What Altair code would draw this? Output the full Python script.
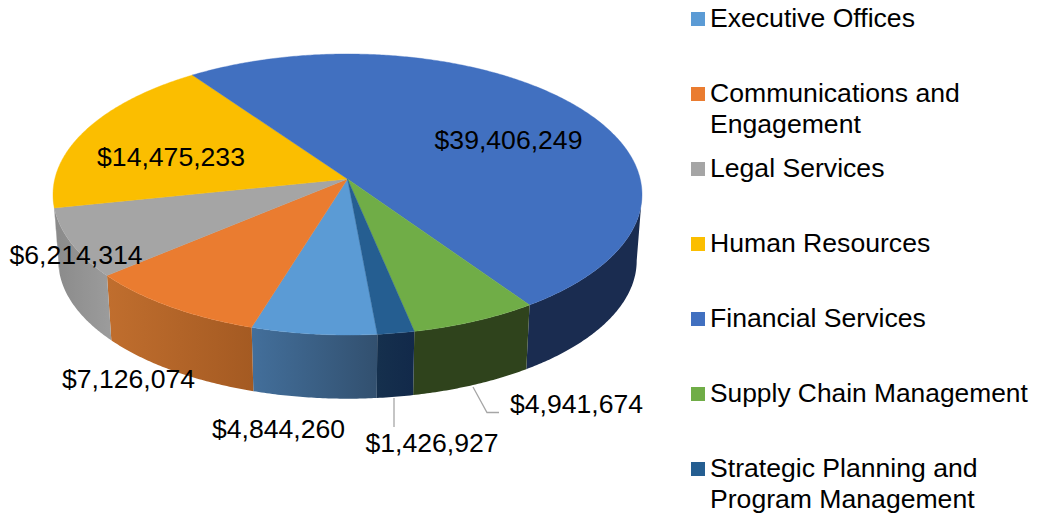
import math
import altair as alt
import pandas as pd

categories = ["Executive Offices", "Communications and Engagement", "Legal Services", "Human Resources",
              "Financial Services", "Supply Chain Management", "Strategic Planning and Program Management"]
values = [4844260, 7126074, 6214314, 14475233, 39406249, 4941674, 1426927]
value_labels = ["$4,844,260", "$7,126,074", "$6,214,314", "$14,475,233", "$39,406,249", "$4,941,674", "$1,426,927"]
top_colors = ["#5B9BD5", "#EA7C30", "#A5A5A5", "#FBBE00", "#4170C0", "#70AD47", "#255E91"]
side_from = ["#436F9B", "#C06E2E", "#8A8A8A", "#8A8A8A", "#1A2C50", "#2F431C", "#15304D"]
side_to = ["#32506F", "#A45A22", "#9C9C9C", "#8A8A8A", "#1A2C50", "#2F431C", "#12294A"]

# layout in page pixels
OX, OY = 8, 8
CX, CY = 347.5, 179.0
A, B, K = 138.8, 292.7, 0.1103
DEPTH, SHRINK = 66.5, 0.982
START = -5.2
TANGENT = math.degrees(math.acos(K))
VISIBLE = [(-TANGENT, TANGENT), (360 - TANGENT, 360 + TANGENT)]
label_x = [278.5, 128.5, 76, 171, 508.5, 576.5, 432]
label_y = [438, 388, 264, 166, 149, 413, 452]
legend_y = [12, 87, 162, 237, 312, 387, 462]
legend_lines = [["Executive Offices"], ["Communications and", "Engagement"], ["Legal Services"], ["Human Resources"],
                ["Financial Services"], ["Supply Chain Management"], ["Strategic Planning and", "Program Management"]]
leader_1 = [[394, 398], [394, 427]]
leader_2 = [[473, 387], [487, 412.5], [499, 412.5]]


def rim(t, low=False):
    r = math.radians(t)
    w = 1 - K * math.cos(r)
    dx, dy = -B * math.sin(r) / w, A * math.cos(r) / w
    if low:
        return [CX + SHRINK * dx, CY + DEPTH + SHRINK * dy]
    return [CX + dx, CY + dy]


def arc(a, b):
    n = max(2, int(abs(b - a)) * 2)
    return [a + (b - a) * i / n for i in range(n + 1)]


def feature(kind, coords):
    return {"type": "Feature", "properties": {}, "geometry": {"type": kind, "coordinates": coords}}


total = sum(values)
bounds = [START]
for v in values:
    bounds.append(bounds[-1] + 360 * v / total)

layers = []
for i in range(len(values)):
    a, b = bounds[i], bounds[i + 1]
    for lo, hi in VISIBLE:
        u, v = max(a, lo), min(b, hi)
        if u >= v:
            continue
        ts = arc(u, v)
        poly = [rim(t) for t in ts] + [rim(t, True) for t in reversed(ts)]
        poly.append(poly[0])
        grad = alt.LinearGradient(gradient="linear", x1=0, x2=1, y1=0, y2=0,
                                  stops=[alt.GradientStop(offset=0, color=side_from[i]),
                                         alt.GradientStop(offset=1, color=side_to[i])])
        layers.append(alt.Chart(alt.Data(values=[feature("Polygon", [poly])])).mark_geoshape(fill=grad, strokeWidth=0))

for i in range(len(values)):
    ts = arc(bounds[i], bounds[i + 1])
    poly = [[CX, CY]] + [rim(t) for t in ts] + [[CX, CY]]
    layers.append(alt.Chart(alt.Data(values=[feature("Polygon", [poly])])).mark_geoshape(
        fill=top_colors[i], stroke=top_colors[i], strokeWidth=0.4))

for line in (leader_1, leader_2):
    layers.append(alt.Chart(alt.Data(values=[feature("LineString", line)])).mark_geoshape(
        filled=False, stroke="#A6A6A6", strokeWidth=1.3))

labels = pd.DataFrame({"x": [x - OX for x in label_x], "y": [y - OY for y in label_y], "t": value_labels})
text_font = "Liberation Sans"
layers.append(alt.Chart(labels).mark_text(font=text_font, fontSize=26.6, align="center", baseline="alphabetic", color="#000000").encode(
    x=alt.X("x:Q", scale=None), y=alt.Y("y:Q", scale=None), text="t:N"))

squares = pd.DataFrame({"x": [698 - OX] * 7, "y": [y + 7 - OY for y in legend_y], "c": categories, "col": top_colors})
layers.append(alt.Chart(squares).mark_square(size=196, opacity=1, filled=True).encode(
    x=alt.X("x:Q", scale=None), y=alt.Y("y:Q", scale=None),
    color=alt.Color("col:N", scale=None, legend=None)))

rows = []
for y0, lines in zip(legend_y, legend_lines):
    for j, s in enumerate(lines):
        rows.append({"x": 710 - OX, "y": y0 + 15 + 31 * j - OY, "t": s,
                     "fs": 26.35 if s.startswith("Supply") else 26.6})
layers.append(alt.Chart(pd.DataFrame(rows)).mark_text(font=text_font, align="left", baseline="alphabetic", color="#000000").encode(
    x=alt.X("x:Q", scale=None), y=alt.Y("y:Q", scale=None), text="t:N",
    size=alt.Size("fs:Q", scale=None, legend=None)))

chart = alt.layer(*layers).project(
    type="identity", scale=1, translate=[-OX, -OY], reflectY=False
).properties(width=1021, height=507, padding=0, background="#ffffff",
             autosize=alt.AutoSizeParams(type="none")).configure_view(stroke=None)

chart.save("out.html", embed_options={"renderer": "svg", "actions": False})
